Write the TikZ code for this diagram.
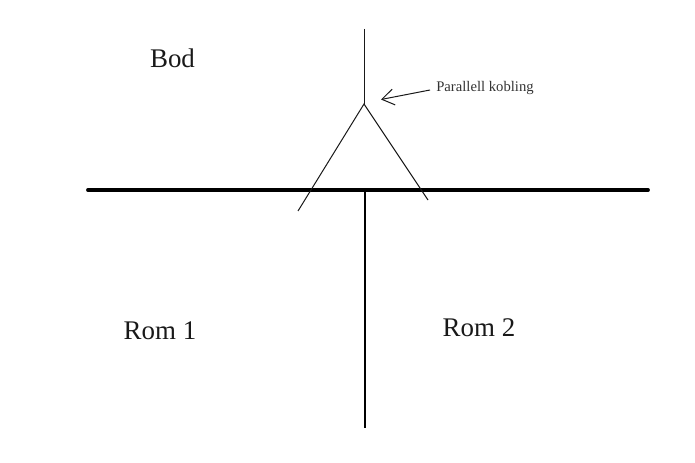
\documentclass[tikz,border=0pt]{standalone}
\usepackage{fontspec}
\setmainfont{Liberation Serif}
\usetikzlibrary{arrows.meta}
\tikzset{wall/.style={line width=2.9pt,line cap=round},wire/.style={line width=0.75pt,black!90},lab/.style={inner sep=0pt,font=\fontsize{20.2}{22}\selectfont,black!90},small/.style={inner sep=0pt,font=\fontsize{11}{13}\selectfont,black!80}}
\begin{document}
\begin{tikzpicture}[x=0.75pt,y=-0.75pt]
\useasboundingbox (0,0) rectangle (695,463);
\coordinate (wl) at (88,190);
\coordinate (wr) at (648,190);
\coordinate (vt) at (365,192);
\coordinate (vb) at (365,428);
\coordinate (top) at (364,29);
\coordinate (j) at (364,104);
\coordinate (a) at (298,211);
\coordinate (b) at (428,200);
\coordinate (s) at (430,90);
\coordinate (tip) at (381,99.5);
\draw[wall] (wl) -- (wr);
\draw[line width=1.5pt] (vt) -- (vb);
\draw[wire] (top) -- (j);
\draw[wire] (a) -- (j) -- (b);
\node[lab] (bod) at (172.5,58.5) {Bod};
\node[lab] (rom1) at (160,330.5) {Rom 1};
\node[lab] (rom2) at (479,327.5) {Rom 2};
\node[small] (par) at (485,88) {Parallell kobling};
\draw[wire,-{Straight Barb[length=9pt,width=12pt]}] (s) -- (tip);
\end{tikzpicture}
\end{document}
